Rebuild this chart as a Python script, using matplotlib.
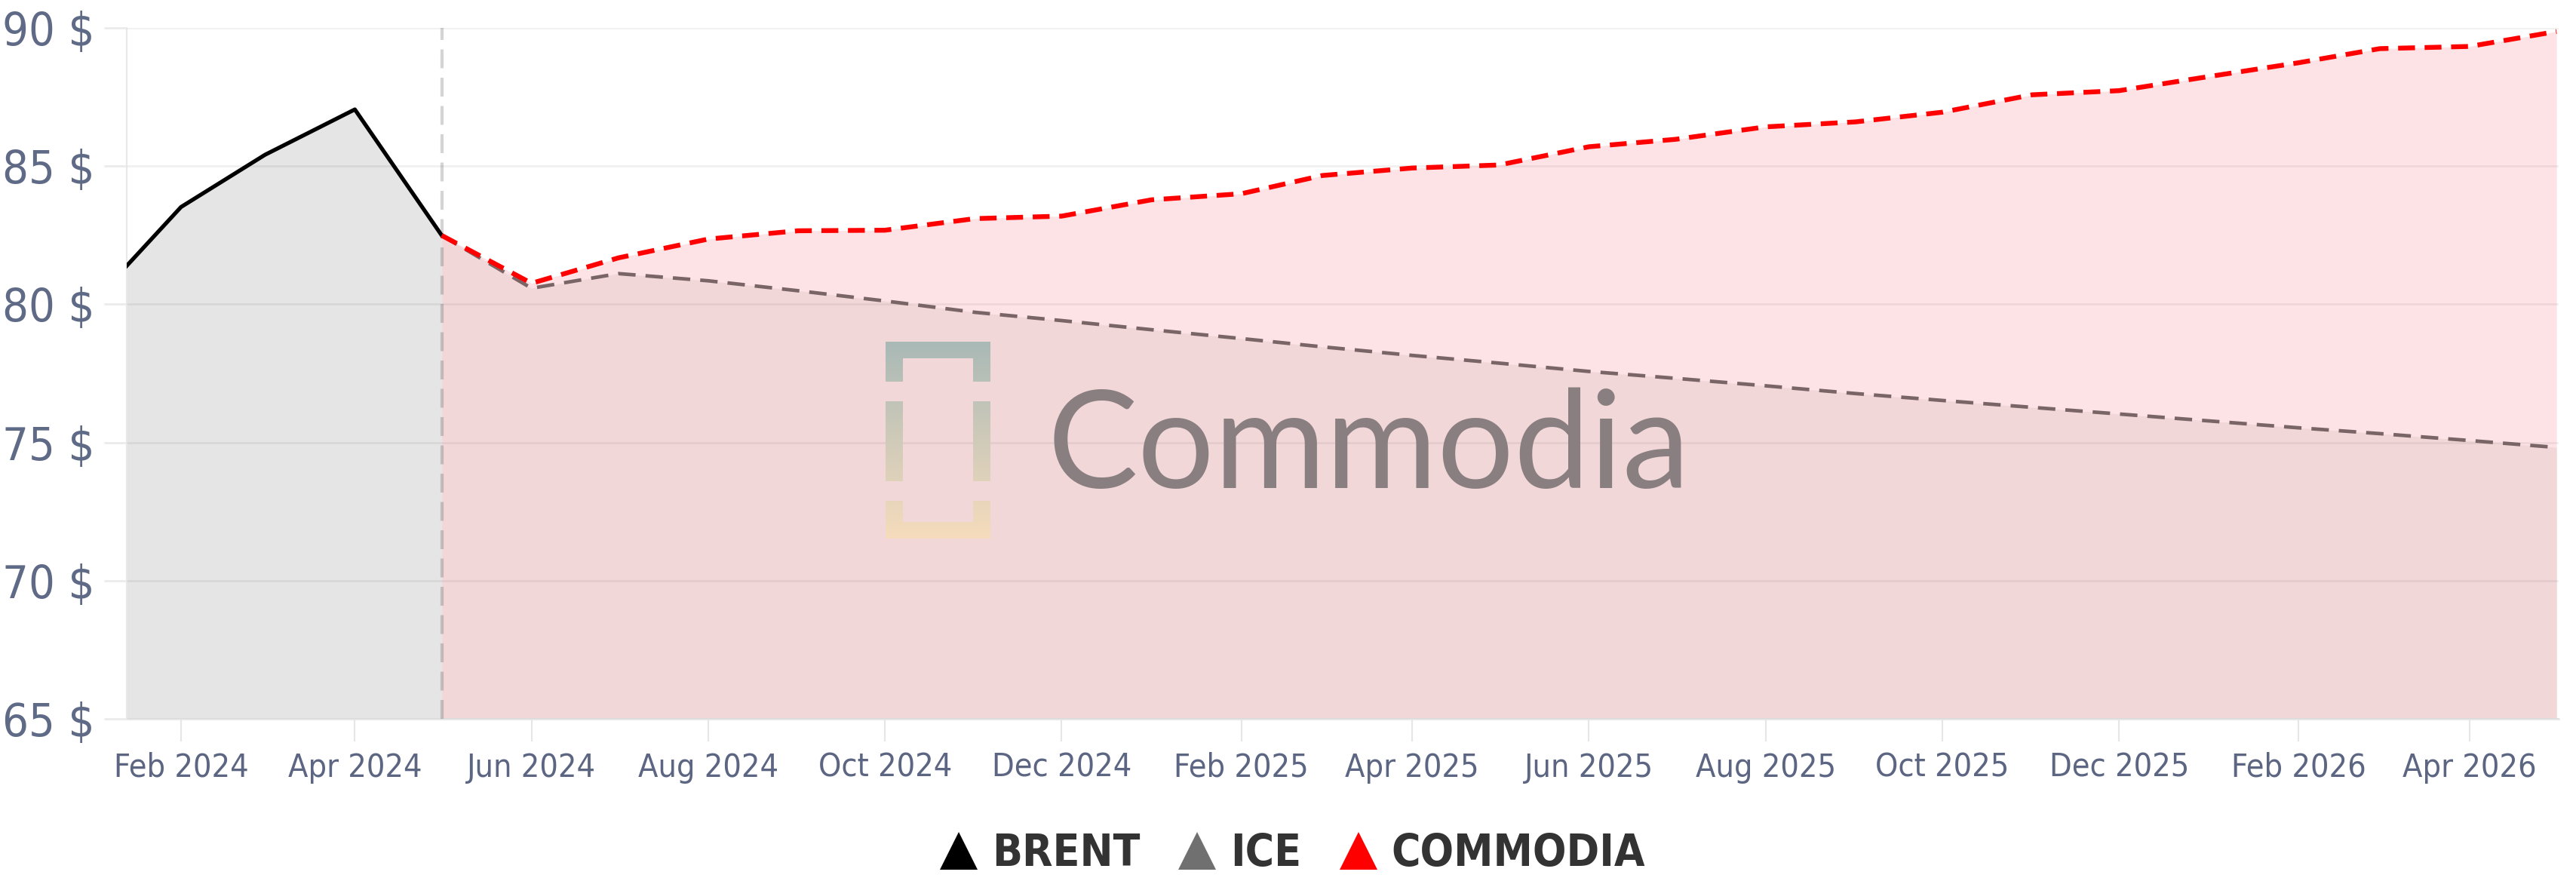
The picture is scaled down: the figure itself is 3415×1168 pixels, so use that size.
import datetime as dt
import numpy as np
import matplotlib
matplotlib.use("Agg")
import matplotlib.pyplot as plt
import matplotlib.dates as mdates
from matplotlib import font_manager
from matplotlib.lines import Line2D
from matplotlib.patches import PathPatch
from matplotlib.path import Path
from matplotlib.ticker import FuncFormatter


# data (monthly values)
#______________________________________________________________________________
brent_months = ["2024-01", "2024-02", "2024-03", "2024-04", "2024-05"]
brent        = [80.0, 83.52, 85.41, 87.05, 82.49]

forecast_months = ["2024-05", "2024-06", "2024-07", "2024-08", "2024-09",
                   "2024-10", "2024-11", "2024-12", "2025-01", "2025-02",
                   "2025-03", "2025-04", "2025-05", "2025-06", "2025-07",
                   "2025-08", "2025-09", "2025-10", "2025-11", "2025-12",
                   "2026-01", "2026-02", "2026-03", "2026-04", "2026-05"]
ice          = [82.49, 80.58, 81.11, 80.85, 80.49, 80.12, 79.71, 79.41, 79.08,
                78.76, 78.46, 78.15, 77.87, 77.57, 77.32, 77.05, 76.77, 76.52,
                76.27, 76.03, 75.78, 75.53, 75.32, 75.07, 74.82]
commodia     = [82.49, 80.76, 81.68, 82.36, 82.66, 82.68, 83.10, 83.19, 83.78,
                84.00, 84.66, 84.93, 85.04, 85.70, 85.97, 86.42, 86.60, 86.95,
                87.58, 87.73, 88.24, 88.74, 89.25, 89.33, 89.87]

yticks       = [65, 70, 75, 80, 85, 90]
legend_names = ["BRENT", "ICE", "COMMODIA"]
legend_cols  = ["#000000", "#707070", "#ff0000"]
watermark    = "Commodia"


# fonts
#______________________________________________________________________________
names  = {f.name for f in font_manager.fontManager.ttflist}
narrow = "Liberation Sans Narrow" if "Liberation Sans Narrow" in names else "DejaVu Sans"
stretch = "normal" if narrow != "DejaVu Sans" else "condensed"
logo_font = "Lato" if "Lato" in names else "DejaVu Sans"

W, H = 3416, 1168
fig = plt.figure(figsize=(W / 100, H / 100), dpi=100)
fig.patch.set_facecolor("white")

# main axes (pixel box of the reference)
#______________________________________________________________________________
ax = fig.add_axes([168 / W, 1 - 953 / H, (3392 - 168) / W, (953 - 37) / H])

bdates = [dt.datetime.strptime(m, "%Y-%m") for m in brent_months]
fdates = [dt.datetime.strptime(m, "%Y-%m") for m in forecast_months]

ax.fill_between(bdates, brent, 65, color="#e5e5e5", lw=0, zorder=1)
ax.fill_between(fdates, commodia, 65, color="#fde3e5", lw=0, zorder=1)
ax.fill_between(fdates, ice, 65, color="#f2d7d9", lw=0, zorder=1.1)

ax.axvline(fdates[0], color="black", alpha=0.17, lw=3, dashes=(6, 3), zorder=3)
ax.plot(bdates, brent, color="black", lw=3.8, zorder=4)
ax.plot(fdates, ice, color="#7a6566", lw=3.4, dashes=(4.9, 2.8), zorder=4)
ax.plot(fdates, commodia, color="#ff0000", lw=4.6, dashes=(3.5, 2.0), zorder=5)

ax.set_ylim(65, 90)
ax.set_xlim(dt.datetime(2024, 1, 13, 6), dt.datetime(2026, 5, 1, 18))

ax.set_yticks(yticks)
ax.yaxis.set_major_formatter(FuncFormatter(lambda v, p: "{:.0f} $".format(v)))
ax.xaxis.set_major_locator(mdates.MonthLocator(bymonth=[2, 4, 6, 8, 10, 12]))
ax.xaxis.set_major_formatter(mdates.DateFormatter("%b %Y"))

ax.grid(axis="y", color="black", alpha=0.06, lw=2)
ax.set_axisbelow(False)
ax.tick_params(axis="y", length=21.6, width=2, color="#ebebeb", pad=9,
               labelsize=44, labelcolor="#5f6a86")
ax.tick_params(axis="x", length=21.6, width=1.5, color="#e6e6e6", pad=10,
               labelsize=31, labelcolor="#5c6682")
for lab in ax.get_xticklabels() + ax.get_yticklabels():
    lab.set_family(narrow)
    lab.set_stretch(stretch)

for s in ["top", "right"]:
    ax.spines[s].set_visible(False)
ax.spines["left"].set_color("#e8e8e8")
ax.spines["left"].set_linewidth(1.5)
ax.spines["bottom"].set_color("#e6e6e6")
ax.spines["bottom"].set_linewidth(2)


# watermark logo (own axes in pixel coords)
#______________________________________________________________________________
lx0, lx1, ly0, ly1 = 1160, 2300, 440, 730
lax = fig.add_axes([lx0 / W, 1 - ly1 / H, (lx1 - lx0) / W, (ly1 - ly0) / H])
lax.set_xlim(lx0, lx1)
lax.set_ylim(ly1, ly0)
lax.axis("off")
lax.patch.set_alpha(0)

rects = [(1174, 453, 1313, 475), (1174, 475, 1197, 506), (1290, 475, 1313, 506),
         (1174, 532, 1197, 638), (1290, 532, 1313, 638),
         (1174, 664, 1197, 692), (1290, 664, 1313, 692), (1174, 692, 1313, 714)]
verts, codes = [], []
for x0, y0, x1, y1 in rects:
    verts += [(x0, y0), (x1, y0), (x1, y1), (x0, y1), (x0, y0)]
    codes += [Path.MOVETO, Path.LINETO, Path.LINETO, Path.LINETO, Path.CLOSEPOLY]
clip = PathPatch(Path(verts, codes), transform=lax.transData, fc="none", ec="none")
lax.add_patch(clip)

top = np.array([0xa9, 0xb9, 0xb6]) / 255
bot = np.array([0xf6, 0xdc, 0xbc]) / 255
t = np.linspace(0, 1, 200)[:, None]
grad = (top * (1 - t) + bot * t)[:, None, :]
im = lax.imshow(grad, extent=(1174, 1313, 714, 453), aspect="auto", zorder=2)
im.set_clip_path(clip)

txt = lax.text(1389, 647, watermark, family=logo_font, fontsize=130,
               color="#8a7f80", va="baseline", ha="left")
r = fig.canvas.get_renderer()
wpx = txt.get_window_extent(r).width
txt.set_fontsize(130 * 853 / wpx)


# legend
#______________________________________________________________________________
handles = [Line2D([], [], marker="^", linestyle="none", markersize=36,
                  markerfacecolor=c, markeredgecolor=c, markeredgewidth=0)
           for c in legend_cols]
leg = fig.legend(handles, legend_names, loc="center", ncol=3,
                 bbox_to_anchor=(0.5015, 0.031), bbox_transform=fig.transFigure,
                 frameon=False, handlelength=0.9, handletextpad=0.3,
                 columnspacing=0.85,
                 prop=dict(family=narrow, weight="bold", size=42, stretch=stretch))
for tx in leg.get_texts():
    tx.set_color("#333333")

fig.savefig("out.png", dpi=100, facecolor="white")
